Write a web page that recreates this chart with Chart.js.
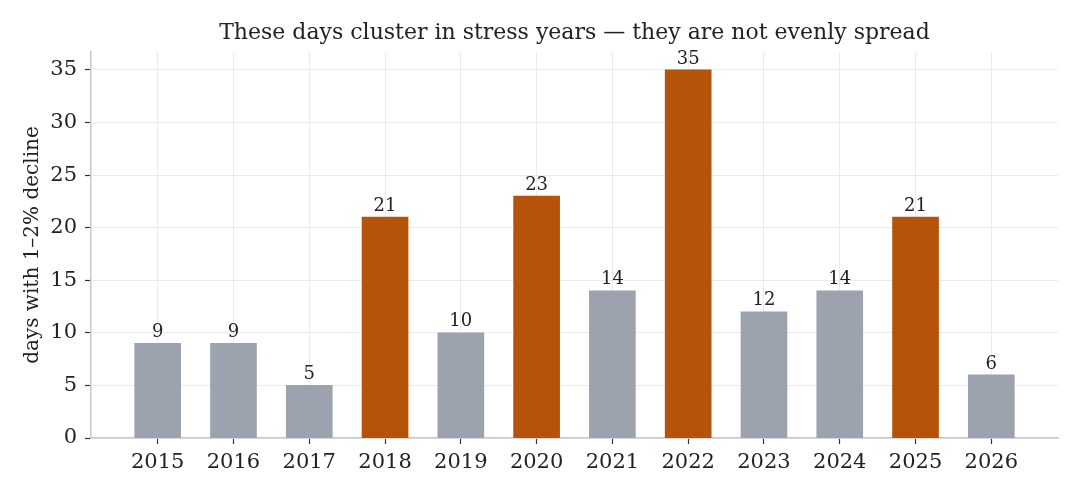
<!DOCTYPE html>
<html>
<head>
<meta charset="utf-8">
<script src="https://cdn.jsdelivr.net/npm/chart.js@4"></script>
<style>
  html, body { margin: 0; padding: 0; background: #ffffff; }
  #wrap { width: 1080px; height: 495px; }
</style>
</head>
<body>
<div id="wrap"><canvas id="chart" width="1080" height="495"></canvas></div>
<script>
// data
const years = ["2015", "2016", "2017", "2018", "2019", "2020", "2021", "2022", "2023", "2024", "2025", "2026"];
const dayCounts = [9, 9, 5, 21, 10, 23, 14, 35, 12, 14, 21, 6];
const stressYears = ["2018", "2020", "2022", "2025"];
const yTicks = [0, 5, 10, 15, 20, 25, 30, 35];

const titleText = "These days cluster in stress years \u2014 they are not evenly spread";
const serif = "'DejaVu Serif', serif";

const grayBar = "#9ca3af";
const orangeBar = "#b45309";

const points = years.map((y, i) => ({ x: i, y: dayCounts[i] }));
const colors = years.map(y => stressYears.includes(y) ? orangeBar : grayBar);

// value labels on top of bars + title centred on the plot area
const extras = {
    id: "extras",
    afterDatasetsDraw(chart) {
        const ctx = chart.ctx;
        const meta = chart.getDatasetMeta(0);
        ctx.save();
        ctx.fillStyle = "#222222";
        ctx.font = "18px " + serif;
        ctx.textAlign = "center";
        ctx.textBaseline = "bottom";
        meta.data.forEach((bar, i) => {
            ctx.fillText(String(dayCounts[i]), bar.x, bar.y - 2);
        });
        const area = chart.chartArea;
        ctx.font = "22px " + serif;
        ctx.textBaseline = "middle";
        ctx.fillText(titleText, (area.left + area.right) / 2, 33);
        ctx.restore();
    }
};

new Chart(document.getElementById("chart").getContext("2d"), {
    type: "bar",
    data: {
        datasets: [{
            data: points,
            backgroundColor: colors,
            borderWidth: 0,
            barThickness: 46
        }]
    },
    options: {
        responsive: false,
        animation: false,
        layout: { padding: { top: 52, right: 22, bottom: 0, left: 0 } },
        plugins: {
            legend: { display: false },
            tooltip: { enabled: false }
        },
        scales: {
            x: {
                type: "linear",
                offset: false,
                min: -0.88,
                max: 11.88,
                afterFit(scale) { scale.height = 57; },
                afterBuildTicks(scale) {
                    scale.ticks = years.map((y, i) => ({ value: i }));
                },
                ticks: {
                    color: "#222222",
                    font: { family: serif, size: 21 },
                    padding: 6,
                    maxRotation: 0,
                    autoSkip: false,
                    callback: (v) => years[v] ?? ""
                },
                grid: {
                    offset: false,
                    color: "#e6e6e6",
                    lineWidth: 0.8,
                    tickColor: "#333333",
                    tickLength: 6,
                    tickWidth: 1.2
                },
                border: { color: "#c8c8c8", width: 1.5 }
            },
            y: {
                min: 0,
                max: 36.7,
                afterFit(scale) { scale.width = 91; },
                afterBuildTicks(scale) {
                    scale.ticks = yTicks.map(v => ({ value: v }));
                },
                ticks: {
                    color: "#222222",
                    font: { family: serif, size: 21 },
                    padding: 8
                },
                grid: {
                    color: "#e6e6e6",
                    lineWidth: 0.8,
                    tickColor: "#333333",
                    tickLength: 6,
                    tickWidth: 1.2
                },
                border: { color: "#c8c8c8", width: 1.5 },
                title: {
                    display: true,
                    text: "days with 1\u20132% decline",
                    color: "#222222",
                    font: { family: serif, size: 20 },
                    padding: { top: 21, bottom: 0 }
                }
            }
        }
    },
    plugins: [extras]
});
</script>
</body>
</html>
